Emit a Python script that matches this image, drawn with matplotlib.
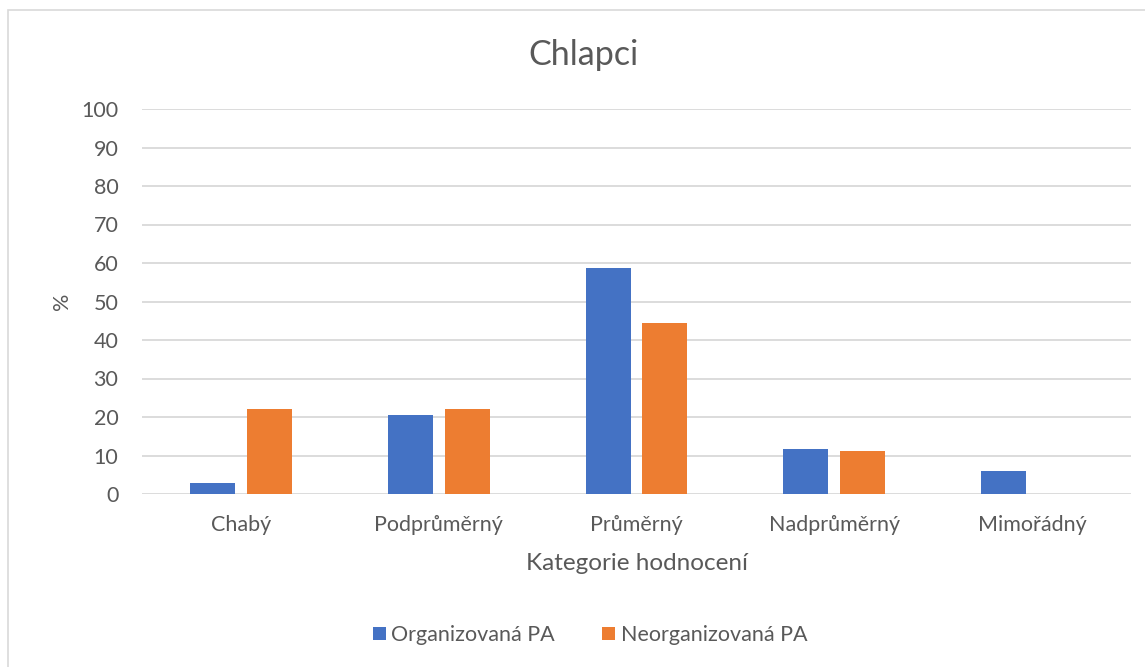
import matplotlib
matplotlib.use("Agg")
import matplotlib.pyplot as plt
from matplotlib.patches import Rectangle
import numpy as np

plt.rcParams['font.family'] = ['Lato', 'DejaVu Sans']

categories = ["Chabý", "Podprůměrný", "Průměrný", "Nadprůměrný", "Mimořádný"]
organized = [2.9, 20.6, 58.8, 11.8, 5.9]
unorganized = [22.2, 22.2, 44.4, 11.1, 0.0]
series_names = ["Organizovaná PA", "Neorganizovaná PA"]
yticks = list(range(0, 101, 10))

BLUE = "#4472C4"
ORANGE = "#ED7D31"
GRID = "#D9D9D9"
TEXT = "#595959"

fig = plt.figure(figsize=(11.45, 6.67), dpi=100)
fig.patches.append(Rectangle((8 / 1145, -0.05), 1.2, 1 - 10 / 667 + 0.05,
                             transform=fig.transFigure, fill=False,
                             edgecolor="#D9D9D9", linewidth=1.2))

ax = fig.add_axes([142 / 1145, 1 - 494 / 667, (1131 - 142) / 1145, (494 - 109) / 667])

x = np.arange(len(categories))
w = 0.2275
off = 0.1435
ax.bar(x - off, organized, width=w, color=BLUE, label=series_names[0], zorder=3)
ax.bar(x + off, unorganized, width=w, color=ORANGE, label=series_names[1], zorder=3)

ax.set_xlim(-0.5, len(categories) - 0.5)
ax.set_ylim(0, 100)
ax.set_yticks(yticks)
ax.set_xticks(x)
ax.set_xticklabels(categories)
ax.yaxis.grid(True, color=GRID, linewidth=1.3, zorder=0)
ax.set_axisbelow(True)
for s in ax.spines.values():
    s.set_visible(False)
ax.tick_params(axis='both', length=0, colors=TEXT, labelsize=15.5)
ax.tick_params(axis='y', pad=17)
ax.tick_params(axis='x', pad=15)

ax.set_xlabel("Kategorie hodnocení", color=TEXT, fontsize=17.5, labelpad=13)
ax.set_ylabel("%", color=TEXT, fontsize=15.5, labelpad=7)

fig.text(584 / 1145, 1 - 55 / 667, "Chlapci", ha="center", va="center",
         color=TEXT, fontsize=24.5)

leg = fig.legend(loc="center", bbox_to_anchor=(590 / 1145, 1 - 635 / 667),
                 ncol=2, frameon=False, fontsize=15.5, handlelength=0.6,
                 handleheight=0.6, handletextpad=0.25, columnspacing=2.2)
for t in leg.get_texts():
    t.set_color(TEXT)

fig.savefig("out.png", dpi=100, facecolor="white")
